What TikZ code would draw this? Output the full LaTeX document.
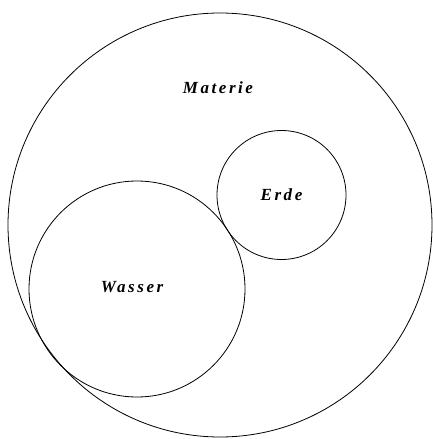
\documentclass[tikz,border=0pt]{standalone}
\usepackage{fontspec}
\setmainfont{Liberation Serif}
\newfontfamily\labelfont[LetterSpace=15]{Liberation Serif}
\usepackage{tikz}
\usetikzlibrary{positioning}
\tikzset{
    diagram/.style={line width=0.8pt},
    set circle/.style={circle, draw, inner sep=0pt},
    set label/.style={font=\labelfont\fontsize{17}{19}\selectfont\bfseries\itshape, inner sep=1pt},
}

\begin{document}
\begin{tikzpicture}[
    diagram,
    x=1pt, y=-1pt,
    outer/.style={set circle, minimum size=424pt},
    water/.style={set circle, minimum size=216pt},
    earth/.style={set circle, minimum size=129pt}
  ]
    \useasboundingbox (0,0) rectangle (432,439);

    \node[outer] (materie) at (220,225) {};
    \node[water] (wasser) at (137,289) {};
    \node[earth] (erde) at (281.5,195) {};

    \node[set label] (materielabel) at (218,88) {Materie};
    \node[set label] (erdelabel) at (erde.center) {Erde};
    \node[set label] (wasserlabel) at (132,287) {Wasser};
  \end{tikzpicture}
\end{document}
